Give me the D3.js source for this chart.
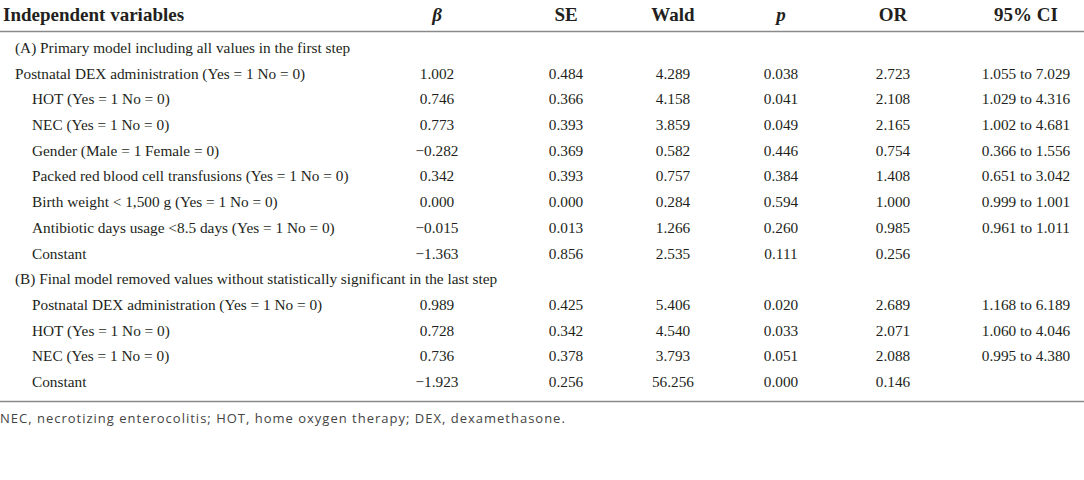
<!DOCTYPE html>
<html>
<head>
<meta charset="utf-8">
<script src="https://cdn.jsdelivr.net/npm/d3@7"></script>
<style>
  body { margin: 0; background: #fff; }
  svg text { font-family: "Liberation Serif", "DejaVu Serif", serif; fill: #231f20; }
</style>
</head>
<body>
<svg id="tbl" width="1084" height="480"></svg>
<script>
var headers = ["Independent variables", "\u03b2", "SE", "Wald", "p", "OR", "95% CI"];

// rows: section rows carry no values
var rowLabels = [
    "(A) Primary model including all values in the first step",
    "Postnatal DEX administration (Yes = 1 No = 0)",
    "HOT (Yes = 1 No = 0)",
    "NEC (Yes = 1 No = 0)",
    "Gender (Male = 1 Female = 0)",
    "Packed red blood cell transfusions (Yes = 1 No = 0)",
    "Birth weight < 1,500 g (Yes = 1 No = 0)",
    "Antibiotic days usage <8.5 days (Yes = 1 No = 0)",
    "Constant",
    "(B) Final model removed values without statistically significant in the last step",
    "Postnatal DEX administration (Yes = 1 No = 0)",
    "HOT (Yes = 1 No = 0)",
    "NEC (Yes = 1 No = 0)",
    "Constant"
];
var rowIndent = [1, 1, 2, 2, 2, 2, 2, 2, 2, 1, 2, 2, 2, 2];
var betaVals = [null, "1.002", "0.746", "0.773", "\u22120.282", "0.342", "0.000", "\u22120.015", "\u22121.363", null, "0.989", "0.728", "0.736", "\u22121.923"];
var seVals = [null, "0.484", "0.366", "0.393", "0.369", "0.393", "0.000", "0.013", "0.856", null, "0.425", "0.342", "0.378", "0.256"];
var waldVals = [null, "4.289", "4.158", "3.859", "0.582", "0.757", "0.284", "1.266", "2.535", null, "5.406", "4.540", "3.793", "56.256"];
var pVals = [null, "0.038", "0.041", "0.049", "0.446", "0.384", "0.594", "0.260", "0.111", null, "0.020", "0.033", "0.051", "0.000"];
var orVals = [null, "2.723", "2.108", "2.165", "0.754", "1.408", "1.000", "0.985", "0.256", null, "2.689", "2.071", "2.088", "0.146"];
var ciVals = [null, "1.055 to 7.029", "1.029 to 4.316", "1.002 to 4.681", "0.366 to 1.556", "0.651 to 3.042", "0.999 to 1.001", "0.961 to 1.011", "", null, "1.168 to 6.189", "1.060 to 4.046", "0.995 to 4.380", ""];
var footnote = "NEC, necrotizing enterocolitis; HOT, home oxygen therapy; DEX, dexamethasone.";

var valueCols = [betaVals, seVals, waldVals, pVals, orVals, ciVals];

var svg = d3.select("#tbl");

var colX = d3.scaleOrdinal()
    .domain(d3.range(1, 7))
    .range([437, 566, 673, 781, 893, 1026]);
var indentX = d3.scaleOrdinal().domain([0, 1, 2]).range([3, 15, 32]);
var rowY = d3.scalePoint()
    .domain(d3.range(rowLabels.length))
    .range([53, 387]);

// header
svg.selectAll(".hdr")
    .data(headers).enter().append("text")
    .attr("class", "hdr")
    .attr("x", function(d, i) { return i === 0 ? indentX(0) : colX(i); })
    .attr("y", 21)
    .style("text-anchor", function(d, i) { return i === 0 ? "start" : "middle"; })
    .style("font-weight", "bold")
    .style("font-style", function(d, i) { return (i === 1 || i === 4) ? "italic" : "normal"; })
    .style("font-size", "19px")
    .text(function(d) { return d; });

svg.append("line")
    .attr("x1", 0).attr("x2", 1084)
    .attr("y1", 31.5).attr("y2", 31.5)
    .attr("stroke", "#8a8a8a").attr("stroke-width", 1.3);

svg.append("line")
    .attr("x1", 0).attr("x2", 1084)
    .attr("y1", 401.5).attr("y2", 401.5)
    .attr("stroke", "#8a8a8a").attr("stroke-width", 1.3);

var rows = svg.selectAll(".row")
    .data(rowLabels).enter().append("g")
    .attr("class", "row")
    .attr("transform", function(d, i) { return "translate(0," + rowY(i) + ")"; });

rows.append("text")
    .attr("x", function(d, i) { return indentX(rowIndent[i]); })
    .style("font-size", "15.3px")
    .text(function(d) { return d; });

valueCols.forEach(function(col, c) {
    rows.append("text")
        .attr("x", colX(c + 1))
        .style("text-anchor", "middle")
        .style("font-size", "15.3px")
        .text(function(d, i) { return col[i] == null ? "" : col[i]; });
});

svg.append("text")
    .attr("x", 0)
    .attr("y", 423)
    .style("font-family", "'Open Sans', 'Noto Sans', sans-serif")
    .style("font-size", "13px")
    .style("letter-spacing", "1px")
    .style("fill", "#444")
    .text(footnote);
</script>
</body>
</html>
